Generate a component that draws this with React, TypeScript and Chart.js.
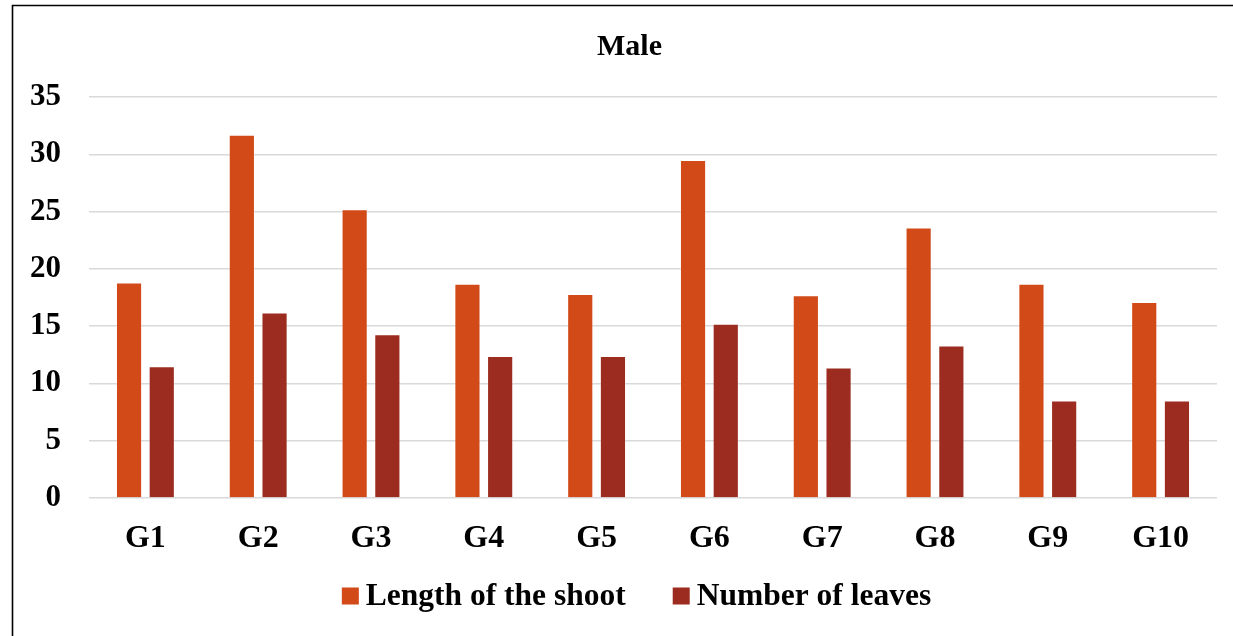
import React, { useEffect, useRef } from "react";
import { Chart, registerables } from "chart.js";

Chart.register(...registerables);

const categories = ["G1", "G2", "G3", "G4", "G5", "G6", "G7", "G8", "G9", "G10"];
const shootLength = [18.8, 31.7, 25.2, 18.7, 17.8, 29.5, 17.7, 23.6, 18.7, 17.1];
const leafCount = [11.5, 16.2, 14.3, 12.4, 12.4, 15.2, 11.4, 13.3, 8.5, 8.5];
const seriesNames = ["Length of the shoot", "Number of leaves"];
const seriesColors = ["#D24A18", "#9B2C1F"];
const yTicks = [0, 5, 10, 15, 20, 25, 30, 35];

const FONT = "'Liberation Serif', 'Times New Roman', serif";

const framePlugin = {
  id: "frame",
  afterLayout(chart: any) {
    const tb = chart.titleBlock;
    if (tb) {
      tb.left += 15;
      tb.right += 15;
    }
  },
  beforeDraw(chart: any) {
    const ctx = chart.ctx;
    ctx.save();
    ctx.fillStyle = "#ffffff";
    ctx.fillRect(0, 0, chart.width, chart.height);
    ctx.strokeStyle = "#000000";
    ctx.lineWidth = 1.6;
    ctx.beginPath();
    ctx.moveTo(12.5, chart.height + 5);
    ctx.lineTo(12.5, 5.5);
    ctx.lineTo(chart.width + 5, 5.5);
    ctx.stroke();
    ctx.restore();
  },
};

const legendPlugin = {
  id: "customLegend",
  afterDraw(chart: any) {
    const ctx = chart.ctx;
    ctx.save();
    ctx.font = `bold 31.5px ${FONT}`;
    ctx.textBaseline = "middle";
    const box = 17;
    const gap = 7;
    const spacing = 47;
    const items = chart.data.datasets.map((ds: any) => ({
      label: ds.label,
      color: ds.backgroundColor,
      w: ctx.measureText(ds.label).width,
    }));
    let total = 0;
    items.forEach((it: any, i: number) => {
      total += box + gap + it.w + (i > 0 ? spacing : 0);
    });
    let x = 636.5 - total / 2;
    const cy = 596;
    items.forEach((it: any) => {
      ctx.fillStyle = it.color;
      ctx.fillRect(x, cy - box / 2, box, box);
      ctx.fillStyle = "#000000";
      ctx.fillText(it.label, x + box + gap, cy + 1);
      x += box + gap + it.w + spacing;
    });
    ctx.restore();
  },
};

export default function App() {
  const canvasRef = useRef<HTMLCanvasElement | null>(null);

  useEffect(() => {
    if (!canvasRef.current) return;
    const chart = new Chart(canvasRef.current, {
      type: "bar",
      data: {
        labels: categories,
        datasets: [
          {
            label: seriesNames[0],
            data: shootLength,
            backgroundColor: seriesColors[0],
            borderColor: "rgba(255,255,255,0.3)",
            borderWidth: 1,
            borderSkipped: "bottom",
            categoryPercentage: 0.58,
            barPercentage: 0.8,
          },
          {
            label: seriesNames[1],
            data: leafCount,
            backgroundColor: seriesColors[1],
            borderColor: "rgba(255,255,255,0.3)",
            borderWidth: 1,
            borderSkipped: "bottom",
            categoryPercentage: 0.58,
            barPercentage: 0.8,
          },
        ],
      },
      options: {
        animation: false,
        responsive: false,
        maintainAspectRatio: false,
        layout: { padding: { left: 12, right: 16, top: 0, bottom: 76 } },
        plugins: {
          legend: { display: false },
          tooltip: { enabled: false },
          title: {
            display: true,
            text: "Male",
            color: "#000000",
            font: { family: FONT, size: 30, weight: "bold", lineHeight: 1.2 },
            padding: { top: 29, bottom: 32 },
          },
        },
        scales: {
          x: {
            grid: { display: false, drawTicks: false },
            border: { display: false },
            ticks: {
              color: "#000000",
              font: { family: FONT, size: 32, weight: "bold" },
              padding: 22,
              maxRotation: 0,
            },
            afterFit(scale: any) {
              scale.height = 62;
            },
          },
          y: {
            min: 0,
            max: 35,
            afterBuildTicks(scale: any) {
              scale.ticks = yTicks.map((v) => ({ value: v }));
            },
            grid: { color: "#d9d9d9", lineWidth: 1.5, drawTicks: false },
            border: { display: false },
            ticks: {
              color: "#000000",
              font: { family: FONT, size: 31, weight: "bold" },
              padding: 28,
            },
            afterFit(scale: any) {
              scale.width = 77;
            },
          },
        },
      },
      plugins: [framePlugin, legendPlugin],
    } as any);
    return () => chart.destroy();
  }, []);

  return (
    <div style={{ position: "fixed", left: 0, top: 0, width: 1233, height: 636, background: "#fff" }}>
      <canvas ref={canvasRef} width={1233} height={636} style={{ display: "block" }} />
    </div>
  );
}
